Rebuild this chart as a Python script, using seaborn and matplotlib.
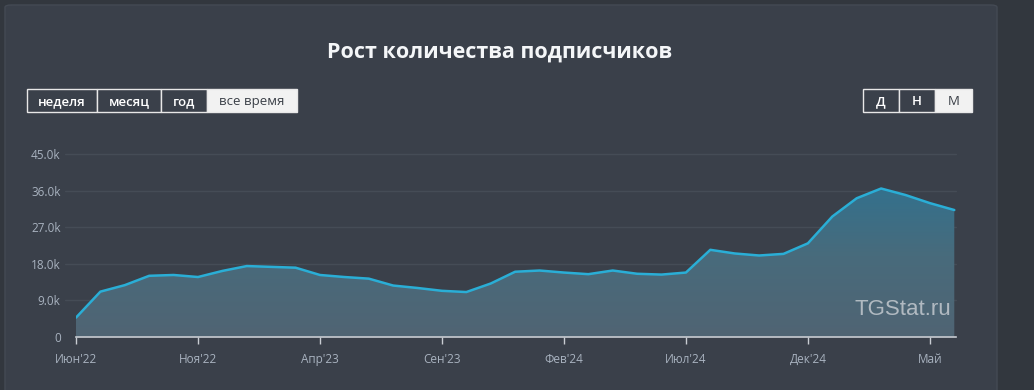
import numpy as np
import pandas as pd
import matplotlib
matplotlib.use("Agg")
import matplotlib.pyplot as plt
import seaborn as sns
from matplotlib.patches import FancyBboxPatch
from matplotlib.colors import LinearSegmentedColormap

# ── DATA (monthly, Jun'22 .. Jun'25) ─────────────────────────
months = list(range(37))
subscribers = [4700, 11100, 12700, 15000, 15200, 14700, 16200, 17400, 17200, 17000,
               15200, 14700, 14300, 12600, 12000, 11300, 11000, 13100, 16000, 16300,
               15800, 15400, 16300, 15500, 15300, 15800, 21400, 20500, 20000, 20400,
               23000, 29600, 34100, 36500, 34900, 32900, 31200]
tick_pos    = [0, 5, 10, 15, 20, 25, 30, 35]
tick_labels = ["Июн'22", "Ноя'22", "Апр'23", "Сен'23", "Фев'24", "Июл'24", "Дек'24", "Май"]
y_ticks     = [0, 9000, 18000, 27000, 36000, 45000]
y_labels    = ["0", "9.0k", "18.0k", "27.0k", "36.0k", "45.0k"]
period_btns = ["неделя", "месяц", "год", "все время"]
scale_btns  = ["Д", "Н", "М"]

# ── COLOURS ──────────────────────────────────────────────────
OUTER  = "#32373e"
CARD   = "#3a404a"
GRID   = "#454c56"
LINE   = "#2aaed6"
LABEL  = "#a8b2bf"

sns.set_theme(style="dark")
plt.rcParams["font.family"] = ["Open Sans", "DejaVu Sans"]

W, H = 1034, 390
fig = plt.figure(figsize=(W / 100, H / 100), dpi=100)
fig.patch.set_facecolor(OUTER)

def fx(px):
    return px / W

def fy(py):
    return 1 - py / H

# card (kept behind the axes)
card = FancyBboxPatch((fx(5), fy(400)), fx(992), (400 - 5) / H,
                      boxstyle="round,pad=0,rounding_size=0.006",
                      transform=fig.transFigure, facecolor=CARD,
                      edgecolor="#444a54", linewidth=1, zorder=-5)
fig.patches.append(card)

fig.text(fx(500), fy(52), "Рост количества подписчиков", ha="center", va="center",
         fontsize=15.5, fontweight="bold", color="#f4f6f8")

def button_group(x0, widths, labels, active, y0=89, h=23):
    x = x0
    for w, lab in zip(widths, labels):
        on = lab == active
        r = FancyBboxPatch((fx(x), fy(y0 + h)), fx(w), h / H,
                           boxstyle="square,pad=0", transform=fig.transFigure,
                           facecolor="#f2f2f2" if on else CARD,
                           edgecolor="#e8e8e8", linewidth=1)
        fig.patches.append(r)
        fig.text(fx(x + w / 2), fy(y0 + h / 2 + 1), lab, ha="center", va="center",
                 fontsize=9.5, color="#3a3f47" if on else "#ffffff",
                 fontweight="normal" if on else "semibold")
        x += w

button_group(27, [70, 64, 46, 90], period_btns, "все время")
button_group(863, [36, 36, 37], scale_btns, "М")

# ── AXES ─────────────────────────────────────────────────────
ax = fig.add_axes([fx(76), 1 - 336.7 / H, fx(956 - 76), (336.7 - 154) / H])
ax.set_facecolor(CARD)
ax.patch.set_alpha(0)

df = pd.DataFrame({"month": months, "subs": subscribers})

# gradient fill under the line
poly = ax.fill_between(df["month"], df["subs"], 0, color="none")
cmap = LinearSegmentedColormap.from_list("fill", ["#506473", "#486b7c", "#2f7290"])
grad = np.linspace(0, 1, 256).reshape(-1, 1)
img = ax.imshow(grad, extent=[0, 36, 0, 40000], origin="lower", aspect="auto",
                cmap=cmap, zorder=1)
img.set_clip_path(poly.get_paths()[0], ax.transData)

sns.lineplot(data=df, x="month", y="subs", color=LINE, linewidth=1.8, ax=ax, zorder=3)

ax.set_xlim(0, 36.07)
ax.set_ylim(0, 45000)

# gridlines reach a little past the left edge
for yv in y_ticks[1:]:
    ax.plot([-0.012, 1], [yv, yv], transform=ax.get_yaxis_transform(),
            color=GRID, linewidth=1, clip_on=False, zorder=0)

for s in ["top", "right", "left"]:
    ax.spines[s].set_visible(False)
ax.spines["bottom"].set_color("#c9cdd3")
ax.spines["bottom"].set_linewidth(1.2)
ax.spines["bottom"].set_zorder(4)

ax.set_xticks(tick_pos)
ax.set_xticklabels(tick_labels)
ax.set_yticks(y_ticks)
ax.set_yticklabels(y_labels)
ax.tick_params(axis="x", colors="#c9cdd3", length=5, width=1, direction="out",
               labelcolor=LABEL, labelsize=8.5, pad=7, bottom=True)
ax.tick_params(axis="y", length=0, labelcolor=LABEL, labelsize=8.5, pad=11)
ax.set_xlabel("")
ax.set_ylabel("")
ax.grid(False)

ax.text(0.995, 0.09, "TGStat.ru", transform=ax.transAxes, ha="right", va="bottom",
        fontsize=16, color="#c3c9cf", alpha=0.85, family=["Liberation Sans", "DejaVu Sans"],
        zorder=5)

fig.savefig("out.png", dpi=100, facecolor=fig.get_facecolor())
